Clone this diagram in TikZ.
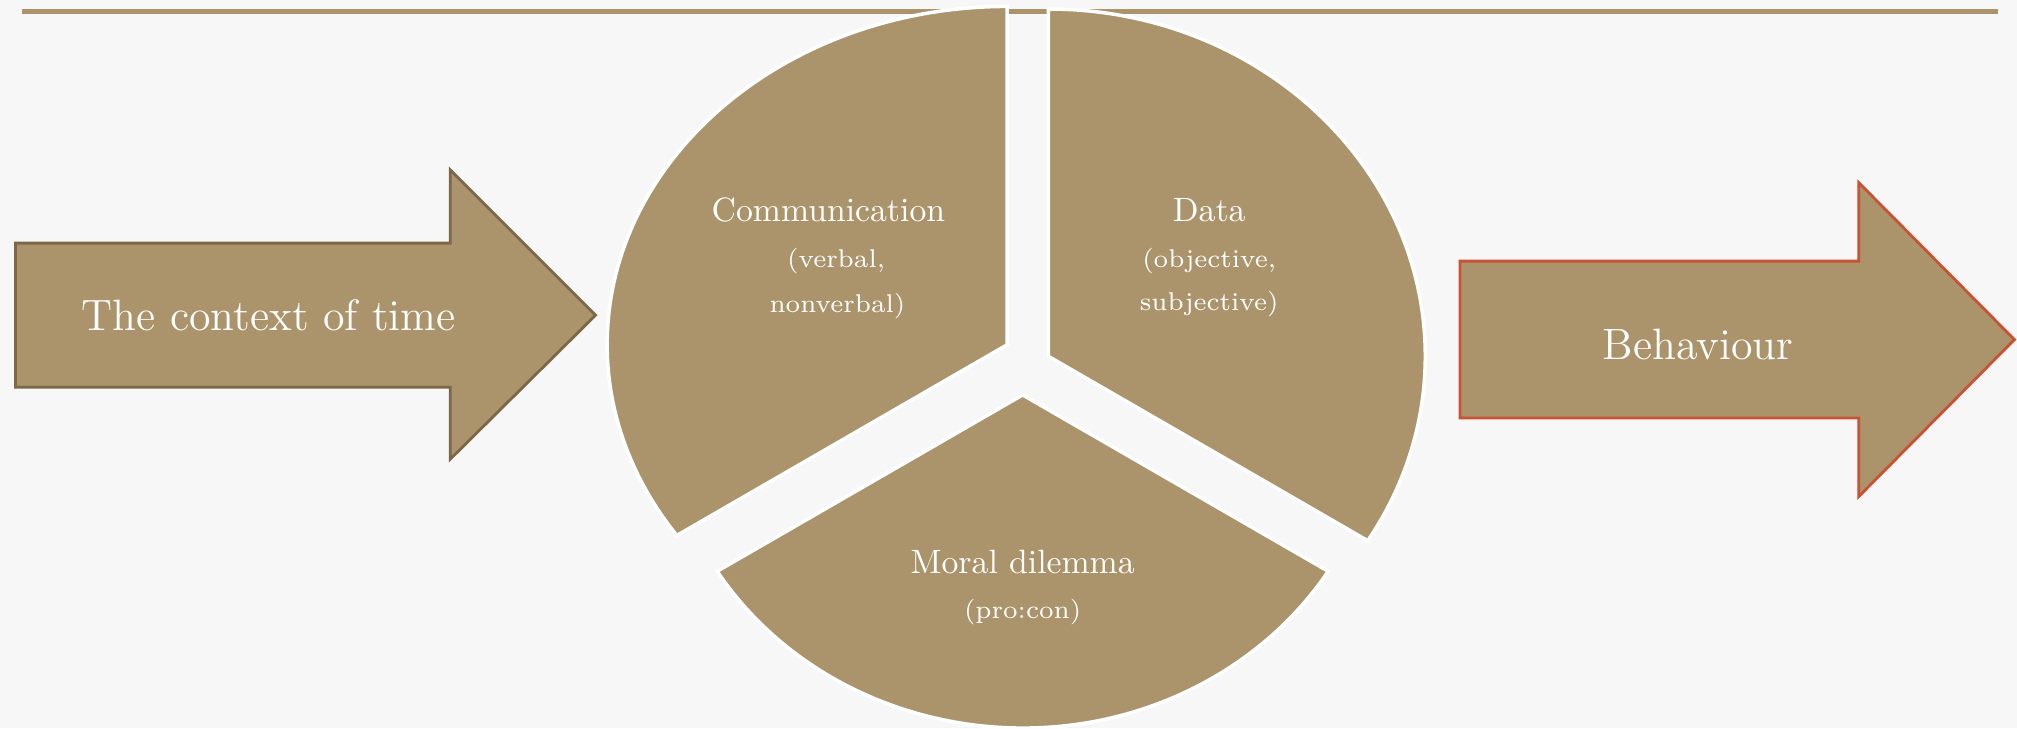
\documentclass[tikz,border=0pt]{standalone}
\usetikzlibrary{positioning,calc}
\definecolor{sand}{RGB}{171,148,107}
\definecolor{sanddark}{RGB}{122,104,72}
\definecolor{rust}{RGB}{200,82,52}
\definecolor{paper}{RGB}{247,247,247}

\begin{document}
\begin{tikzpicture}[x=0.12864mm, y=0.12864mm,
    seg/.style={fill=sand, draw=white, line width=1pt},
    head/.style={text=white, font=\fontsize{9.6}{11}\selectfont},
    sub/.style={text=white, font=\fontsize{7.3}{9}\selectfont},
    big/.style={text=white, font=\fontsize{12.5}{14}\selectfont}]
    % paper and top rule
    \fill[paper] (0,0) rectangle (1568,566);
    \useasboundingbox (0,0) rectangle (1568,566);
    \draw[sand, line width=1.4pt] (17,557) -- (1553,557);

    % left arrow
    \draw[fill=sand, draw=sanddark, line width=0.8pt] (12,265) -- (12,377) -- (350,377) -- (350,434)
        -- (463,321) -- (350,209) -- (350,265) -- cycle;
    \node[big] (time) at (209,321) {The context of time};

    % pie
    \coordinate (c1) at (783,298);
    \coordinate (c2) at (815,289);
    \coordinate (c3) at (795,259);
    \draw[seg] (c1) -- ++(0,263) arc[start angle=90, end angle=214.32, x radius=311, y radius=263] -- cycle;
    \draw[seg] (c2) -- ++(0,270) arc[start angle=90, end angle=-32.07, x radius=293, y radius=270] -- cycle;
    \draw[seg] (c3) -- ++(-237.5,-137.1) arc[start angle=211.97, end angle=328.03, x radius=280, y radius=259] -- cycle;

    \node[head] (comm) at (644,403) {Communication};
    \node[sub] (verbal) at (650,363) {(verbal,};
    \node[sub] (nonverbal) at (651,328) {nonverbal)};
    \node[head] (data) at (940,403) {Data};
    \node[sub] (obj) at (940,363) {(objective,};
    \node[sub] (subj) at (940,330) {subjective)};
    \node[head] (moral) at (795,129) {Moral dilemma};
    \node[sub] (procon) at (795,90) {(pro:con)};

    % right arrow
    \draw[fill=sand, draw=rust, line width=0.8pt] (1135,241) -- (1135,363) -- (1445,363) -- (1445,424)
        -- (1566,302) -- (1445,180) -- (1445,241) -- cycle;
    \node[big] (behav) at (1320,298) {Behaviour};
\end{tikzpicture}
\end{document}
